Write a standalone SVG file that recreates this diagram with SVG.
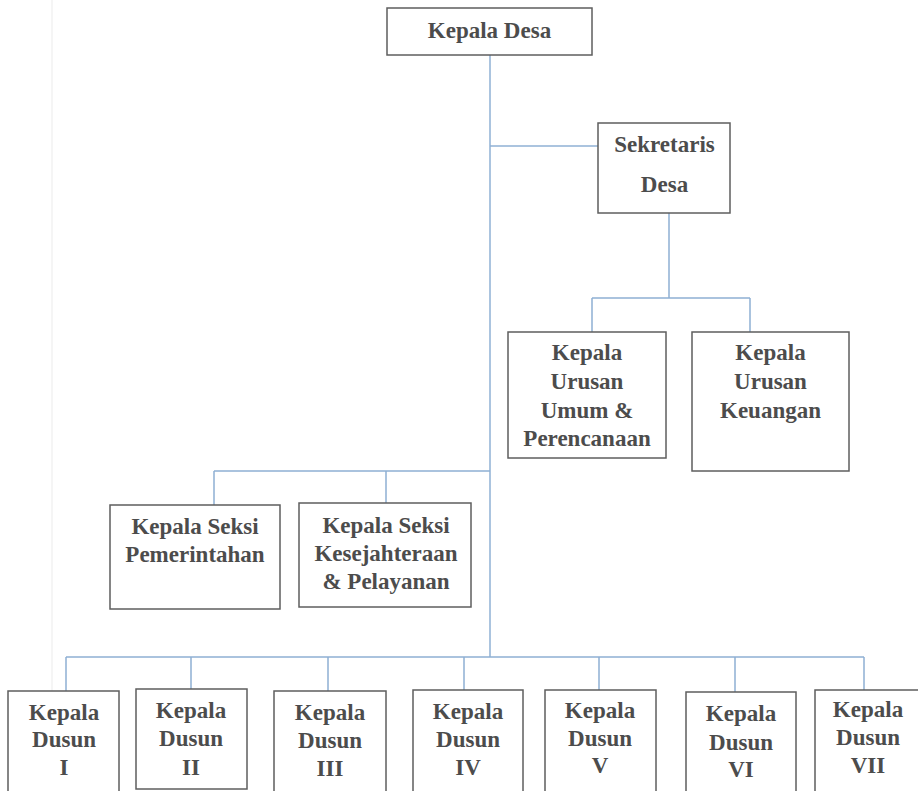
<svg xmlns="http://www.w3.org/2000/svg" width="918" height="791" viewBox="0 0 918 791">
  <style>
    .box { fill: #ffffff; stroke: #5e5e5e; stroke-width: 1.5; }
    .lbl { font-family: "Liberation Serif", "Times New Roman", serif; font-weight: bold; font-size: 23px; fill: #4c4c4c; text-anchor: middle; }
    .conn { fill: none; stroke: #8fb0d4; stroke-width: 1.5; }
  </style>
  <rect x="0" y="0" width="918" height="791" fill="#ffffff"/>
  <line x1="52" y1="0" x2="52" y2="791" stroke="#f2f2f2" stroke-width="1.5"/>

  <!-- connectors -->
  <g id="connectors">
    <path class="conn" d="M490,55 V657"/>
    <path class="conn" d="M490,146 H598"/>
    <path class="conn" d="M669,213 V298 M592,298 H750 M592,298 V332 M750,298 V332"/>
    <path class="conn" d="M214,471 H490 M214,471 V505 M386,471 V503"/>
    <path class="conn" d="M66,657 H864 M66,657 V691 M191,657 V689 M328,657 V691 M464,657 V690 M599,657 V690 M735,657 V692 M864,657 V690"/>
  </g>

  <g id="kepala-desa">
    <rect class="box" x="387" y="8" width="205" height="47"/>
    <text class="lbl" x="489.5" y="38">Kepala Desa</text>
  </g>

  <g id="sekretaris-desa">
    <rect class="box" x="598" y="123" width="132" height="90"/>
    <text class="lbl" x="664.5" y="152">Sekretaris</text>
    <text class="lbl" x="664.5" y="192">Desa</text>
  </g>

  <g id="kaur-umum">
    <rect class="box" x="508" y="332" width="158" height="126"/>
    <text class="lbl" x="587" y="360">Kepala</text>
    <text class="lbl" x="587" y="389">Urusan</text>
    <text class="lbl" x="587" y="418">Umum &amp;</text>
    <text class="lbl" x="587" y="446">Perencanaan</text>
  </g>

  <g id="kaur-keuangan">
    <rect class="box" x="692" y="332" width="157" height="139"/>
    <text class="lbl" x="770.5" y="360">Kepala</text>
    <text class="lbl" x="770.5" y="389">Urusan</text>
    <text class="lbl" x="770.5" y="418">Keuangan</text>
  </g>

  <g id="kasi-pemerintahan">
    <rect class="box" x="110" y="505" width="170" height="104"/>
    <text class="lbl" x="195" y="534">Kepala Seksi</text>
    <text class="lbl" x="195" y="562">Pemerintahan</text>
  </g>

  <g id="kasi-kesejahteraan">
    <rect class="box" x="299" y="503" width="172" height="104"/>
    <text class="lbl" x="386" y="533">Kepala Seksi</text>
    <text class="lbl" x="386" y="561">Kesejahteraan</text>
    <text class="lbl" x="386" y="589">&amp; Pelayanan</text>
  </g>

  <g id="kadus-1">
    <rect class="box" x="8" y="691" width="111" height="110"/>
    <text class="lbl" x="64" y="720">Kepala</text>
    <text class="lbl" x="64" y="747">Dusun</text>
    <text class="lbl" x="64" y="775">I</text>
  </g>

  <g id="kadus-2">
    <rect class="box" x="136" y="689" width="111" height="100"/>
    <text class="lbl" x="191" y="718">Kepala</text>
    <text class="lbl" x="191" y="746">Dusun</text>
    <text class="lbl" x="191" y="775">II</text>
  </g>

  <g id="kadus-3">
    <rect class="box" x="274" y="691" width="112" height="110"/>
    <text class="lbl" x="330" y="720">Kepala</text>
    <text class="lbl" x="330" y="748">Dusun</text>
    <text class="lbl" x="330" y="776">III</text>
  </g>

  <g id="kadus-4">
    <rect class="box" x="413" y="690" width="110" height="110"/>
    <text class="lbl" x="468" y="719">Kepala</text>
    <text class="lbl" x="468" y="747">Dusun</text>
    <text class="lbl" x="468" y="775">IV</text>
  </g>

  <g id="kadus-5">
    <rect class="box" x="545" y="690" width="111" height="110"/>
    <text class="lbl" x="600" y="718">Kepala</text>
    <text class="lbl" x="600" y="746">Dusun</text>
    <text class="lbl" x="600" y="773">V</text>
  </g>

  <g id="kadus-6">
    <rect class="box" x="686" y="692" width="110" height="110"/>
    <text class="lbl" x="741" y="721">Kepala</text>
    <text class="lbl" x="741" y="750">Dusun</text>
    <text class="lbl" x="741" y="777">VI</text>
  </g>

  <g id="kadus-7">
    <rect class="box" x="815" y="690" width="110" height="110"/>
    <text class="lbl" x="868" y="717">Kepala</text>
    <text class="lbl" x="868" y="745">Dusun</text>
    <text class="lbl" x="868" y="773">VII</text>
  </g>
</svg>
